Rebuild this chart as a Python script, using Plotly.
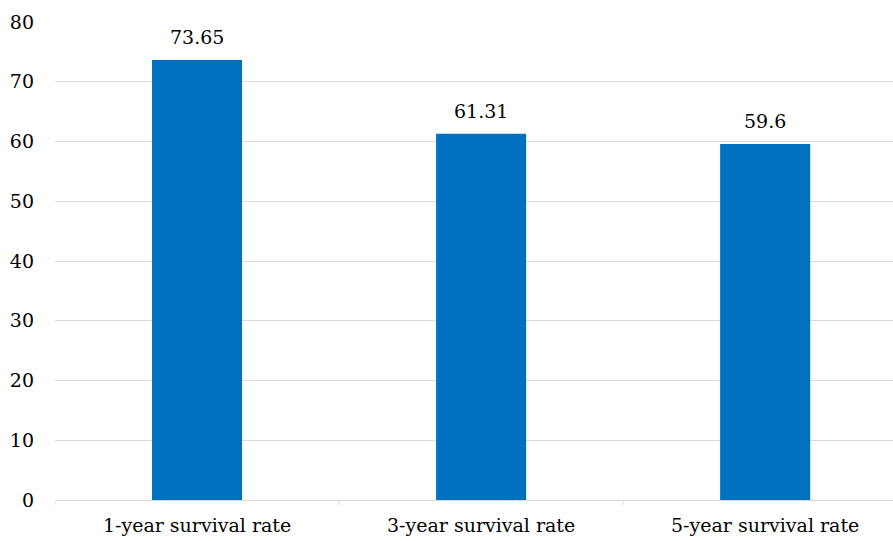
import plotly.graph_objects as go

categories = ["1-year survival rate", "3-year survival rate", "5-year survival rate"]
rates = [73.65, 61.31, 59.6]
labels = ["73.65", "61.31", "59.6"]
y_ticks = [0, 10, 20, 30, 40, 50, 60, 70, 80]

FONT = "DejaVu Serif"
GRID = "#D9D9D9"

fig = go.Figure(
    go.Bar(
        x=list(range(len(categories))),
        y=rates,
        marker=dict(color="#0070C0", line=dict(width=0)),
        width=0.317,
        hoverinfo="skip",
    )
)

# value labels above each bar
for i, (v, t) in enumerate(zip(rates, labels)):
    fig.add_annotation(
        x=i,
        y=v,
        text=t,
        showarrow=False,
        yanchor="bottom",
        yshift=10,
        font=dict(family=FONT, size=19, color="#000000"),
    )

fig.update_layout(
    width=893,
    height=541,
    margin=dict(l=55, r=0, t=22, b=41),
    paper_bgcolor="white",
    plot_bgcolor="white",
    showlegend=False,
    font=dict(family=FONT, size=19, color="#000000"),
)

fig.update_xaxes(
    range=[-0.5, 2.45],
    tickmode="array",
    tickvals=list(range(len(categories))),
    ticktext=categories,
    showgrid=False,
    showline=True,
    linecolor=GRID,
    linewidth=1,
    zeroline=False,
    ticklabelstandoff=8,
    tickfont=dict(family=FONT, size=19, color="#000000"),
)

# boundary tick marks between categories
for xb in [-0.5, 0.5, 1.5, 2.5]:
    fig.add_shape(
        type="line",
        xref="x",
        yref="paper",
        x0=xb,
        x1=xb,
        y0=0,
        y1=-0.011,
        line=dict(color=GRID, width=1),
    )

fig.update_yaxes(
    range=[0, 80],
    tickvals=y_ticks,
    showgrid=True,
    gridcolor=GRID,
    gridwidth=1,
    zeroline=False,
    showline=False,
    ticks="",
    ticklabelstandoff=20,
    tickfont=dict(family=FONT, size=19, color="#000000"),
)

fig.write_html("out.html")
